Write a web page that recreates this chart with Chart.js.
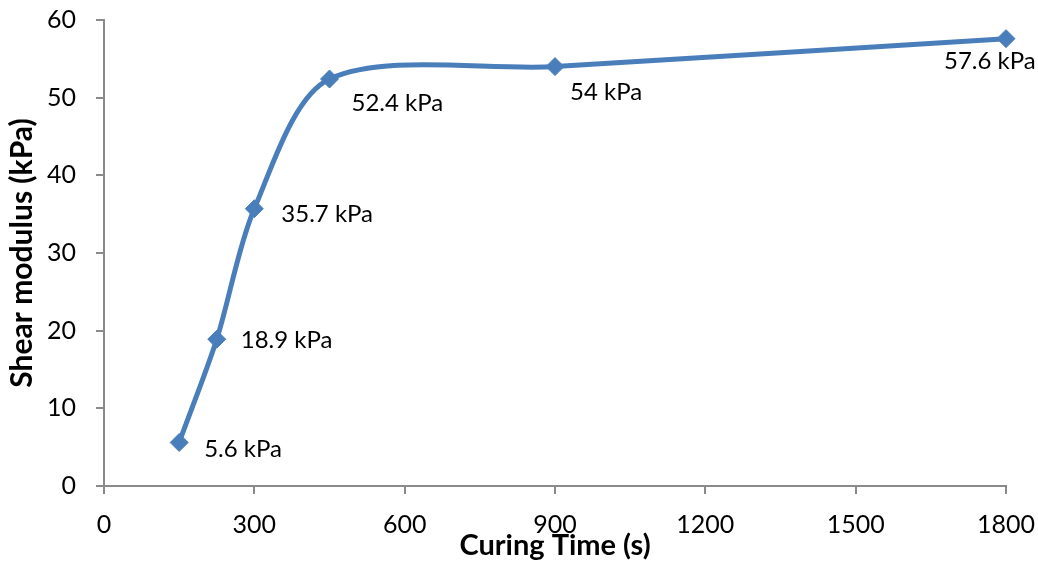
<!DOCTYPE html>
<html>
<head>
<meta charset="utf-8">
<script src="https://cdn.jsdelivr.net/npm/chart.js@4/dist/chart.umd.min.js"></script>
<style>
  html, body { margin: 0; padding: 0; background: #ffffff; }
  #wrap { width: 1038px; height: 571px; position: relative; }
</style>
</head>
<body>
<div id="wrap"><canvas id="chart"></canvas></div>
<script>
// Curing time (s) and measured shear modulus (kPa)
const curingTime = [150, 225, 300, 450, 900, 1800];
const shearModulus = [5.6, 18.9, 35.7, 52.4, 54, 57.6];
const xTickValues = [0, 300, 600, 900, 1200, 1500, 1800];
const yTickValues = [0, 10, 20, 30, 40, 50, 60];
const unit = 'kPa';

const FONT = 'Lato, "Open Sans", sans-serif';
const LINE_BLUE = '#4a7ebb';
const AXIS_GREY = '#8a8a8a';

// Label placement relative to each marker (pixels)
const labelOffsets = [
  [25, 14], [24, 9], [27, 13], [22, 32], [15, 33], [-62, 30]
];

const valueLabels = {
  id: 'valueLabels',
  afterDatasetsDraw(chart) {
    const ctx = chart.ctx;
    const meta = chart.getDatasetMeta(0);
    ctx.save();
    ctx.font = '24px ' + FONT;
    ctx.fillStyle = '#000000';
    ctx.textAlign = 'left';
    ctx.textBaseline = 'alphabetic';
    meta.data.forEach((pt, i) => {
      const [dx, dy] = labelOffsets[i];
      ctx.fillText(shearModulus[i] + ' ' + unit, pt.x + dx, pt.y + dy);
    });
    ctx.restore();
  }
};

// Fixed axis band sizes, without extra room reserved for edge tick labels
function fixBand(prop, size) {
  return scale => {
    scale[prop] = size;
    scale.paddingTop = scale.paddingBottom = scale.paddingLeft = scale.paddingRight = 0;
  };
}

new Chart(document.getElementById('chart'), {
  type: 'line',
  data: {
    datasets: [{
      data: curingTime.map((t, i) => ({ x: t, y: shearModulus[i] })),
      borderColor: LINE_BLUE,
      backgroundColor: LINE_BLUE,
      borderWidth: 5,
      tension: 0.3,
      pointStyle: 'rectRot',
      pointRadius: 9,
      pointBorderWidth: 1,
      pointBackgroundColor: LINE_BLUE,
      pointBorderColor: LINE_BLUE,
      clip: false
    }]
  },
  options: {
    responsive: true,
    maintainAspectRatio: false,
    animation: false,
    events: [],
    layout: { autoPadding: false, padding: { top: 20, right: 32, left: 0, bottom: 0 } },
    plugins: { legend: { display: false }, tooltip: { enabled: false } },
    scales: {
      x: {
        type: 'linear',
        min: 0, max: 1800,
        afterBuildTicks(scale) { scale.ticks = xTickValues.map(v => ({ value: v })); },
        afterFit: fixBand('height', 85),
        ticks: {
          font: { family: FONT, size: 25 }, color: '#000000', padding: 16, maxRotation: 0,
          callback: v => String(v)
        },
        grid: { drawOnChartArea: false, tickLength: 8, color: AXIS_GREY, lineWidth: 2 },
        border: { color: AXIS_GREY, width: 2 },
        title: {
          display: true, text: 'Curing Time (s)', color: '#000000',
          font: { family: FONT, size: 29, weight: 'bold' },
          padding: { top: 0, bottom: 8 }
        }
      },
      y: {
        min: 0, max: 60,
        afterBuildTicks(scale) { scale.ticks = yTickValues.map(v => ({ value: v })); },
        afterFit: fixBand('width', 104),
        ticks: {
          font: { family: FONT, size: 25 }, color: '#000000', padding: 20,
          callback: v => String(v)
        },
        grid: { drawOnChartArea: false, tickLength: 8, color: AXIS_GREY, lineWidth: 2 },
        border: { color: AXIS_GREY, width: 2 },
        title: {
          display: true, text: 'Shear modulus (kPa)', color: '#000000',
          font: { family: FONT, size: 30, weight: 'bold' },
          padding: { top: 4, bottom: 0 }
        }
      }
    }
  },
  plugins: [valueLabels]
});
</script>
</body>
</html>
